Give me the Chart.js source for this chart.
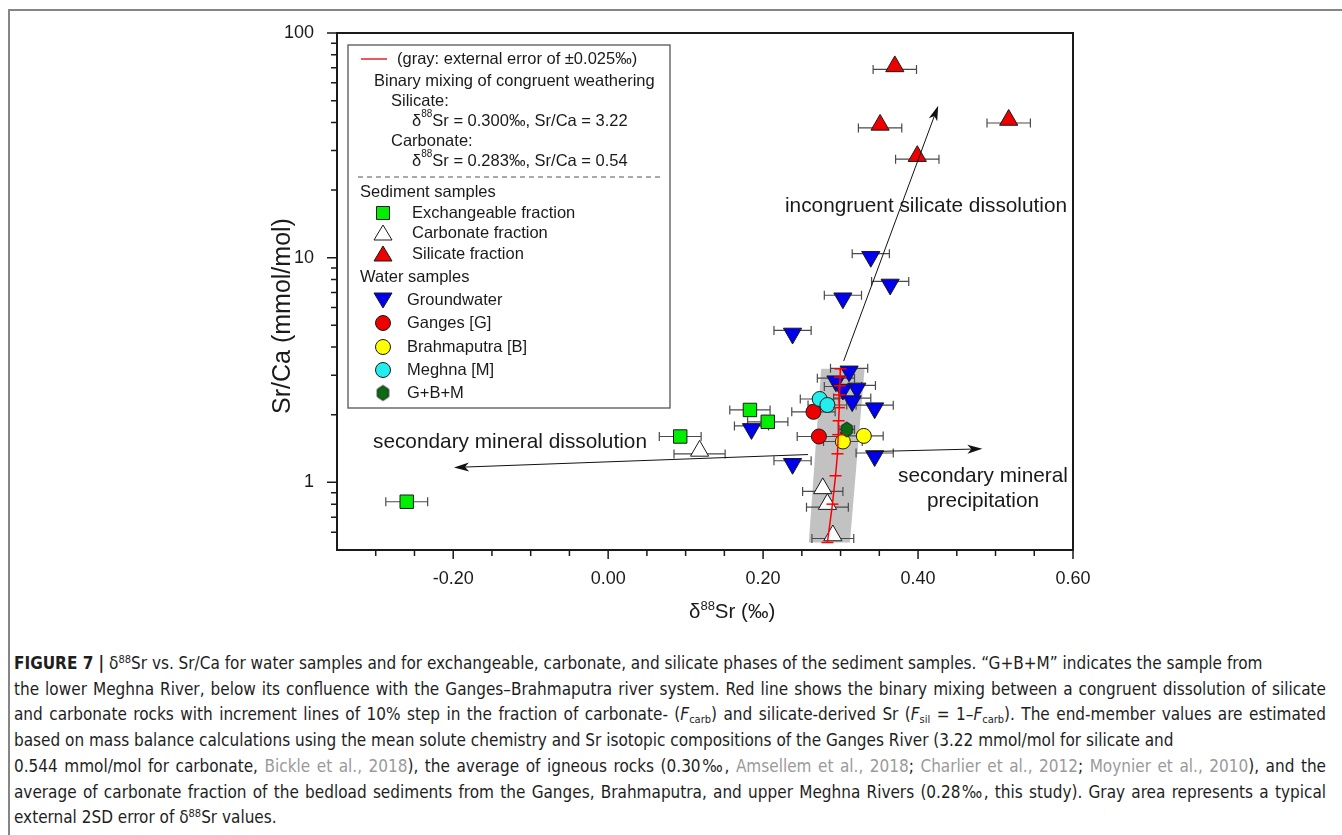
<!DOCTYPE html>
<html>
<head>
<meta charset="utf-8">
<script src="https://cdn.jsdelivr.net/npm/chart.js@4.4.0/dist/chart.umd.min.js"></script>
<style>
  body { margin:0; background:#fff; width:1342px; height:835px; overflow:hidden; position:relative; font-family:"Liberation Sans", Arial, sans-serif; }
  #frame { position:absolute; left:8px; top:9px; width:1400px; height:900px; border-top:2px solid #858585; border-left:2px solid #858585; }
  #chartBox { position:absolute; left:0; top:0; width:1342px; height:640px; }
  #caption { position:absolute; left:14px; top:651px; width:1312px; font-family:"Liberation Sans Narrow","DejaVu Sans Condensed",Arial,sans-serif; font-size:17px; color:#1e1e1e; line-height:25.7px; }
  #caption div { white-space:nowrap; }
  #caption div.j { white-space:normal; text-align:justify; text-align-last:justify; }
  #caption sup { font-size:11px; vertical-align:6px; line-height:0; }
  #caption sub { font-size:11px; vertical-align:-3px; line-height:0; }
  .ref { color:#9a9a9a; }
</style>
</head>
<body>
<div id="frame"></div>
<div id="chartBox"><canvas id="srChart" width="1342" height="640"></canvas></div>
<div id="caption">
  <div><b>FIGURE 7 |</b> δ<sup>88</sup>Sr vs. Sr/Ca for water samples and for exchangeable, carbonate, and silicate phases of the sediment samples. “G+B+M” indicates the sample from</div>
  <div class="j">the lower Meghna River, below its confluence with the Ganges–Brahmaputra river system. Red line shows the binary mixing between a congruent dissolution of silicate</div>
  <div class="j">and carbonate rocks with increment lines of 10% step in the fraction of carbonate- (<i>F</i><sub>carb</sub>) and silicate-derived Sr (<i>F</i><sub>sil</sub> = 1–<i>F</i><sub>carb</sub>). The end-member values are estimated</div>
  <div>based on mass balance calculations using the mean solute chemistry and Sr isotopic compositions of the Ganges River (3.22 mmol/mol for silicate and</div>
  <div class="j">0.544 mmol/mol for carbonate, <span class="ref">Bickle et al., 2018</span>), the average of igneous rocks (0.30‰, <span class="ref">Amsellem et al., 2018</span>; <span class="ref">Charlier et al., 2012</span>; <span class="ref">Moynier et al., 2010</span>), and the</div>
  <div class="j">average of carbonate fraction of the bedload sediments from the Ganges, Brahmaputra, and upper Meghna Rivers (0.28‰, this study). Gray area represents a typical</div>
  <div>external 2SD error of δ<sup>88</sup>Sr values.</div>
</div>

<script>
// values (x = d88Sr in permil, y = Sr/Ca mmol/mol, err = +/- on x)
const exchX   = [0.183, 0.206, 0.093, -0.260];
const exchY   = [2.10, 1.86, 1.60, 0.82];
const exchErr = [0.026, 0.026, 0.027, 0.027];

const carbX   = [0.118, 0.277, 0.283, 0.290];
const carbY   = [1.38, 0.94, 0.80, 0.58];
const carbErr = [0.033, 0.026, 0.027, 0.027];

const silX   = [0.370, 0.351, 0.517, 0.399];
const silY   = [71, 39, 41, 28.3];
const silErr = [0.028, 0.028, 0.028, 0.028];

const gwX   = [0.339, 0.364, 0.303, 0.238, 0.311, 0.294, 0.321, 0.303, 0.315, 0.344, 0.344, 0.185, 0.238];
const gwY   = [10.1, 7.6, 6.6, 4.6, 3.12, 2.82, 2.62, 2.59, 2.30, 2.14, 1.31, 1.73, 1.21];
const gwErr = [0.024, 0.024, 0.024, 0.024, 0.024, 0.024, 0.024, 0.024, 0.024, 0.024, 0.024, 0.022, 0.024];

const gangesX   = [0.265, 0.272];
const gangesY   = [2.06, 1.60];
const gangesErr = [0.028, 0.028];

const brahmaX   = [0.303, 0.330];
const brahmaY   = [1.52, 1.61];
const brahmaErr = [0.025, 0.025];

const meghnaX   = [0.273, 0.283];
const meghnaY   = [2.35, 2.21];
const meghnaErr = [0.025, 0.025];

const gbmX   = [0.308];
const gbmY   = [1.72];
const gbmErr = [0.010];

// binary mixing line (silicate -> carbonate), 10% steps
const mixX = [0.300, 0.2995, 0.299, 0.2985, 0.298, 0.2975, 0.297, 0.296, 0.2935, 0.2895, 0.283];
const mixY = [3.2, 2.94, 2.69, 2.45, 2.15, 1.88, 1.63, 1.34, 1.07, 0.80, 0.54];

// gray error band corners
const bandX = [0.275, 0.331, 0.312, 0.259];
const bandY = [3.2, 3.2, 0.54, 0.54];

// arrows
const arrowFromX = [0.304, 0.258, 0.335];
const arrowFromY = [3.47, 1.33, 1.37];
const arrowToX   = [0.426, -0.199, 0.483];
const arrowToY   = [47.5, 1.165, 1.41];

// axes
const xTickVals   = [-0.20, 0.00, 0.20, 0.40, 0.60];
const xTickLabels = ['-0.20', '0.00', '0.20', '0.40', '0.60'];
const xMinorTicks = [-0.30, -0.25, -0.15, -0.10, -0.05, 0.05, 0.10, 0.15, 0.25, 0.30, 0.35, 0.45, 0.50, 0.55];
const yTickVals   = [1, 10, 100];
const yTickLabels = ['1', '10', '100'];
const yMinorTicks = [0.6, 0.7, 0.8, 0.9, 2, 3, 4, 5, 6, 7, 8, 9, 20, 30, 40, 50, 60, 70, 80, 90];

const FONT = '"Liberation Sans", Arial, sans-serif';
const INK = '#1a1a1a';

function pts(xs, ys, es) {
  return xs.map((x, i) => ({ x: x, y: ys[i], err: es ? es[i] : 0 }));
}

// hexagon marker for G+B+M
function hexMarker(r) {
  const c = document.createElement('canvas');
  const s = Math.ceil(r * 2 + 4);
  c.width = s; c.height = s;
  const g = c.getContext('2d');
  g.beginPath();
  for (let k = 0; k < 6; k++) {
    const a = Math.PI / 3 * k - Math.PI / 2;
    const px = s / 2 + r * 0.87 * Math.cos(a), py = s / 2 + r * Math.sin(a);
    if (k) g.lineTo(px, py); else g.moveTo(px, py);
  }
  g.closePath();
  g.fillStyle = '#0b6a12';
  g.fill();
  g.lineWidth = 1;
  g.strokeStyle = '#1a1a1a';
  g.stroke();
  return c;
}
const hexImg = hexMarker(7.5);

function richText(ctx, parts, x, y, size) {
  let cx = x;
  parts.forEach(p => {
    const s = p.sup ? Math.round(size * 0.62) : size;
    ctx.font = s + 'px ' + FONT;
    ctx.fillText(p.t, cx, p.sup ? y - size * 0.38 : y);
    cx += ctx.measureText(p.t).width;
  });
  return cx;
}

function drawMark(ctx, kind, x, y, fill) {
  ctx.save();
  ctx.fillStyle = fill;
  ctx.strokeStyle = '#1a1a1a';
  ctx.lineWidth = 1;
  ctx.beginPath();
  if (kind === 'square') {
    ctx.rect(x - 6.5, y - 6.5, 13, 13);
  } else if (kind === 'up') {
    ctx.moveTo(x, y - 9); ctx.lineTo(x + 9, y + 6); ctx.lineTo(x - 9, y + 6); ctx.closePath();
  } else if (kind === 'down') {
    ctx.moveTo(x, y + 9); ctx.lineTo(x + 9, y - 6); ctx.lineTo(x - 9, y - 6); ctx.closePath();
  } else if (kind === 'circle') {
    ctx.arc(x, y, 7.5, 0, Math.PI * 2);
  }
  ctx.fill();
  ctx.stroke();
  ctx.restore();
  if (kind === 'hex') ctx.drawImage(hexImg, x - hexImg.width / 2, y - hexImg.height / 2);
}

const behindPlugin = {
  id: 'behind',
  beforeDatasetsDraw(chart) {
    const { ctx } = chart;
    const xs = chart.scales.x, ys = chart.scales.y;
    ctx.save();
    ctx.beginPath();
    bandX.forEach((v, i) => {
      const px = xs.getPixelForValue(v), py = ys.getPixelForValue(bandY[i]);
      if (i) ctx.lineTo(px, py); else ctx.moveTo(px, py);
    });
    ctx.closePath();
    ctx.fillStyle = '#c2c2c2';
    ctx.fill();
    ctx.strokeStyle = '#4a4a4a';
    ctx.lineWidth = 1.2;
    chart.data.datasets.forEach(ds => {
      if (!ds.errBars) return;
      ds.data.forEach(p => {
        const x0 = xs.getPixelForValue(p.x - p.err), x1 = xs.getPixelForValue(p.x + p.err);
        const py = ys.getPixelForValue(p.y) + (ds.barShift || 0);
        ctx.beginPath();
        ctx.moveTo(x0, py); ctx.lineTo(x1, py);
        ctx.moveTo(x0, py - 4.5); ctx.lineTo(x0, py + 4.5);
        ctx.moveTo(x1, py - 4.5); ctx.lineTo(x1, py + 4.5);
        ctx.stroke();
      });
    });
    ctx.restore();
  }
};

const overlayPlugin = {
  id: 'overlay',
  afterDraw(chart) {
    const { ctx, chartArea: a } = chart;
    const xs = chart.scales.x, ys = chart.scales.y;
    ctx.save();

    // arrows
    ctx.strokeStyle = '#111';
    ctx.fillStyle = '#111';
    ctx.lineWidth = 1;
    arrowFromX.forEach((v, i) => {
      const x0 = xs.getPixelForValue(v), y0 = ys.getPixelForValue(arrowFromY[i]);
      const x1 = xs.getPixelForValue(arrowToX[i]), y1 = ys.getPixelForValue(arrowToY[i]);
      const ang = Math.atan2(y1 - y0, x1 - x0);
      ctx.beginPath(); ctx.moveTo(x0, y0);
      ctx.lineTo(x1 - Math.cos(ang) * 8, y1 - Math.sin(ang) * 8); ctx.stroke();
      ctx.beginPath();
      ctx.moveTo(x1, y1);
      ctx.lineTo(x1 - Math.cos(ang) * 15 + Math.sin(ang) * 4.5, y1 - Math.sin(ang) * 15 - Math.cos(ang) * 4.5);
      ctx.lineTo(x1 - Math.cos(ang) * 11, y1 - Math.sin(ang) * 11);
      ctx.lineTo(x1 - Math.cos(ang) * 15 - Math.sin(ang) * 4.5, y1 - Math.sin(ang) * 15 + Math.cos(ang) * 4.5);
      ctx.closePath(); ctx.fill();
    });

    // plot frame
    ctx.strokeStyle = '#1a1a1a';
    ctx.lineWidth = 2;
    ctx.strokeRect(a.left, a.top, a.right - a.left, a.bottom - a.top);

    // tick marks
    ctx.lineWidth = 1.5;
    ctx.beginPath();
    xTickVals.forEach(v => { const p = xs.getPixelForValue(v); ctx.moveTo(p, a.bottom); ctx.lineTo(p, a.bottom + 9); });
    xMinorTicks.forEach(v => { const p = xs.getPixelForValue(v); ctx.moveTo(p, a.bottom); ctx.lineTo(p, a.bottom + 6); });
    yTickVals.forEach(v => { const p = ys.getPixelForValue(v); ctx.moveTo(a.left, p); ctx.lineTo(a.left - 10, p); });
    yMinorTicks.forEach(v => { const p = ys.getPixelForValue(v); ctx.moveTo(a.left, p); ctx.lineTo(a.left - 6, p); });
    ctx.stroke();

    // axis titles
    ctx.fillStyle = INK;
    ctx.textBaseline = 'alphabetic';
    ctx.textAlign = 'left';
    richText(ctx, [{ t: 'δ' }, { t: '88', sup: true }, { t: 'Sr (‰)' }], 689, 618, 20.5);
    ctx.save();
    ctx.translate(290, 316);
    ctx.rotate(-Math.PI / 2);
    ctx.textAlign = 'center';
    ctx.font = '25px ' + FONT;
    ctx.fillText('Sr/Ca (mmol/mol)', 0, 0);
    ctx.restore();

    // annotations
    ctx.font = '20.8px ' + FONT;
    ctx.textBaseline = 'middle';
    ctx.textAlign = 'left';
    ctx.fillText('incongruent silicate dissolution', 785, 206);
    ctx.fillText('secondary mineral dissolution', 373, 442);
    ctx.textAlign = 'center';
    ctx.fillText('secondary mineral', 983, 476);
    ctx.fillText('precipitation', 983, 501);

    // legend box
    ctx.fillStyle = '#fff';
    ctx.fillRect(348, 45, 322, 363);
    ctx.strokeStyle = '#555';
    ctx.lineWidth = 1.3;
    ctx.strokeRect(348, 45, 322, 363);
    ctx.strokeStyle = '#e00000';
    ctx.lineWidth = 1.3;
    ctx.beginPath(); ctx.moveTo(361, 59); ctx.lineTo(387, 59); ctx.stroke();
    ctx.strokeStyle = '#555';
    ctx.lineWidth = 1;
    ctx.setLineDash([5, 4]);
    ctx.beginPath(); ctx.moveTo(358, 177); ctx.lineTo(661, 177); ctx.stroke();
    ctx.setLineDash([]);

    const LF = 16.5;
    ctx.fillStyle = INK;
    ctx.textAlign = 'left';
    ctx.textBaseline = 'middle';
    ctx.font = LF + 'px ' + FONT;
    ctx.fillText('(gray: external error of ±0.025‰)', 397, 59);
    ctx.fillText('Binary mixing of congruent weathering', 374, 81);
    ctx.fillText('Silicate:', 391, 101);
    richText(ctx, [{ t: 'δ' }, { t: '88', sup: true }, { t: 'Sr = 0.300‰, Sr/Ca = 3.22' }], 412, 121, LF);
    ctx.font = LF + 'px ' + FONT;
    ctx.fillText('Carbonate:', 391, 141);
    richText(ctx, [{ t: 'δ' }, { t: '88', sup: true }, { t: 'Sr = 0.283‰, Sr/Ca = 0.54' }], 412, 161, LF);
    ctx.font = LF + 'px ' + FONT;
    ctx.fillText('Sediment samples', 360, 192);
    ctx.fillText('Exchangeable fraction', 412, 213);
    ctx.fillText('Carbonate fraction', 412, 233);
    ctx.fillText('Silicate fraction', 412, 254);
    ctx.fillText('Water samples', 360, 277);
    ctx.fillText('Groundwater', 407, 300);
    ctx.fillText('Ganges [G]', 407, 323);
    ctx.fillText('Brahmaputra [B]', 407, 347);
    ctx.fillText('Meghna [M]', 407, 370);
    ctx.fillText('G+B+M', 407, 393);

    drawMark(ctx, 'square', 383, 213, '#00ee00');
    drawMark(ctx, 'up', 383, 234, '#ffffff');
    drawMark(ctx, 'up', 383, 255, '#ee0000');
    drawMark(ctx, 'down', 383, 299, '#0000ee');
    drawMark(ctx, 'circle', 383, 323, '#ee0000');
    drawMark(ctx, 'circle', 383, 347, '#ffff00');
    drawMark(ctx, 'circle', 383, 370, '#22eeee');
    drawMark(ctx, 'hex', 383, 393);
    ctx.restore();
  }
};

const mk = (pointStyle, radius, fill, rotation) => ({
  showLine: false,
  pointStyle: pointStyle,
  pointRadius: radius,
  pointHoverRadius: radius,
  pointRotation: rotation || 0,
  pointBackgroundColor: fill,
  pointBorderColor: '#1a1a1a',
  pointBorderWidth: 1,
  errBars: true
});

new Chart('srChart', {
  type: 'scatter',
  data: {
    datasets: [
      {
        data: pts(mixX, mixY),
        showLine: true,
        borderColor: '#ff0000',
        borderWidth: 1.5,
        pointStyle: 'line',
        pointRadius: 6,
        pointBorderColor: '#ff0000',
        pointBorderWidth: 1.5,
        tension: 0
      },
      Object.assign({ data: pts(gbmX, gbmY, gbmErr) }, mk(hexImg, 7, '#0b6a12')),
      Object.assign({ data: pts(meghnaX, meghnaY, meghnaErr) }, mk('circle', 7.5, '#22eeee')),
      Object.assign({ data: pts(brahmaX, brahmaY, brahmaErr) }, mk('circle', 7.5, '#ffff00')),
      Object.assign({ data: pts(gangesX, gangesY, gangesErr) }, mk('circle', 7.5, '#ee0000')),
      Object.assign({ data: pts(gwX, gwY, gwErr), barShift: -3 }, mk('triangle', 10.5, '#0000ee', 180)),
      Object.assign({ data: pts(silX, silY, silErr), barShift: 3 }, mk('triangle', 10.5, '#ee0000')),
      Object.assign({ data: pts(carbX, carbY, carbErr), barShift: 3 }, mk('triangle', 10.5, '#ffffff')),
      Object.assign({ data: pts(exchX, exchY, exchErr) }, mk('rect', 9.5, '#00ee00'))
    ]
  },
  options: {
    responsive: false,
    animation: false,
    events: [],
    layout: { padding: { left: 0, right: 269, top: 33, bottom: 0 } },
    plugins: { legend: { display: false }, tooltip: { enabled: false } },
    scales: {
      x: {
        type: 'linear',
        min: -0.35,
        max: 0.60,
        grid: { display: false },
        border: { display: false },
        afterFit: s => { s.height = 90; },
        afterBuildTicks: s => { s.ticks = xTickVals.map(v => ({ value: v })); },
        ticks: {
          autoSkip: false,
          maxRotation: 0,
          padding: 10,
          color: INK,
          font: { family: FONT, size: 18 },
          callback: (v, i) => xTickLabels[i]
        }
      },
      y: {
        type: 'logarithmic',
        min: 0.5,
        max: 100,
        grid: { display: false },
        border: { display: false },
        afterFit: s => { s.width = 337; },
        afterBuildTicks: s => { s.ticks = yTickVals.map(v => ({ value: v })); },
        ticks: {
          autoSkip: false,
          padding: 15,
          color: INK,
          font: { family: FONT, size: 18 },
          callback: (v, i) => yTickLabels[i]
        }
      }
    }
  },
  plugins: [behindPlugin, overlayPlugin]
});
</script>
</body>
</html>
